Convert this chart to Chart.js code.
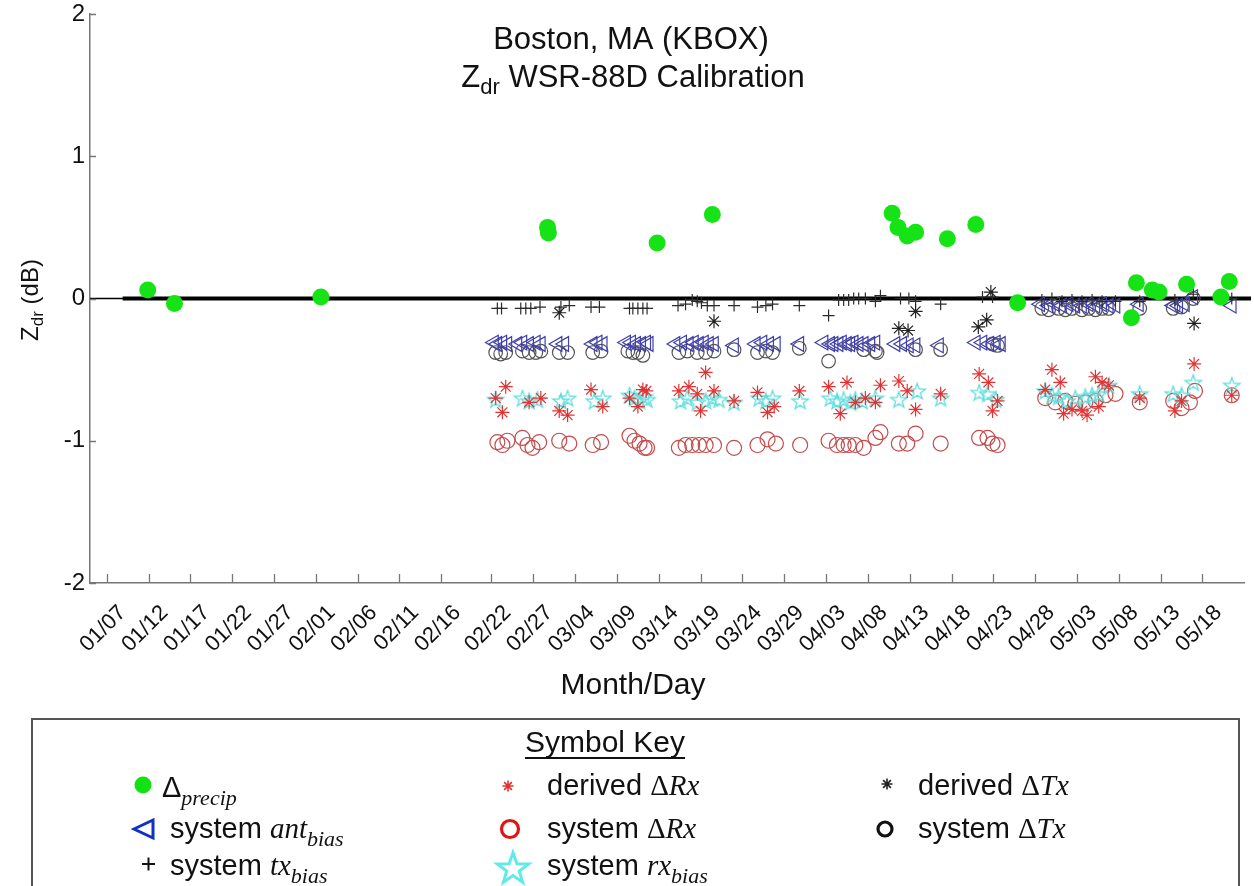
<!DOCTYPE html>
<html>
<head>
<meta charset="utf-8">
<script src="https://cdn.jsdelivr.net/npm/chart.js@4.4.1/dist/chart.umd.min.js"></script>
<style>
  html, body { margin: 0; padding: 0; background: #ffffff; }
  #wrap { width: 1254px; height: 886px; position: relative; overflow: hidden; }
  canvas { display: block; }
</style>
</head>
<body>
<div id="wrap"><canvas id="chart" width="1254" height="886" style="width:1254px;height:886px"></canvas></div>
<script>
// x values are day of year (2015); y values are Zdr offsets in dB
const tickDays = [7, 12, 17, 22, 27, 32, 37, 42, 47, 53, 58, 63, 68, 73, 78, 83, 88, 93, 98, 103, 108, 113, 118, 123, 128, 133, 138];
const tickLabels = ['01/07', '01/12', '01/17', '01/22', '01/27', '02/01', '02/06', '02/11', '02/16', '02/22', '02/27', '03/04', '03/09',
  '03/14', '03/19', '03/24', '03/29', '04/03', '04/08', '04/13', '04/18', '04/23', '04/28', '05/03', '05/08', '05/13', '05/18'];
const yTicks = [-2, -1, 0, 1, 2];

// Δprecip
const precip = [[11.9, 0.06], [15.1, -0.035], [32.6, 0.01], [59.7, 0.50], [59.8, 0.46], [72.8, 0.39], [79.4, 0.59],
  [100.9, 0.60], [101.6, 0.50], [102.7, 0.44], [103.7, 0.465], [107.5, 0.42], [110.9, 0.52], [115.9, -0.03],
  [129.5, -0.135], [130.1, 0.11], [132.0, 0.06], [132.8, 0.045], [136.1, 0.10], [140.2, 0.01], [141.2, 0.12]];

// system tx_bias
const txBias = [[53.7, -0.07], [54.2, -0.07], [56.5, -0.07], [57.1, -0.07], [57.7, -0.07], [58.8, -0.06], [61.3, -0.06], [62.3, -0.05],
  [64.9, -0.06], [65.9, -0.06], [69.5, -0.07], [69.9, -0.07], [70.5, -0.07], [71.1, -0.07], [71.6, -0.07], [75.3, -0.05],
  [76.2, -0.04], [77.0, -0.01], [77.6, -0.02], [78.1, -0.03], [78.8, -0.05], [79.6, -0.05], [82.0, -0.05], [84.8, -0.06],
  [85.8, -0.05], [86.6, -0.04], [89.8, -0.05], [93.3, -0.12], [94.5, -0.01], [95.1, -0.01], [95.7, -0.01], [96.3, 0.0],
  [96.9, 0.0], [97.7, 0.0], [98.9, -0.02], [99.5, 0.02], [101.9, 0.0], [102.9, 0.0], [103.7, -0.02], [106.7, -0.04],
  [111.7, 0.01], [112.9, 0.01], [118.8, -0.01], [120.0, 0.0], [121.2, -0.02], [122.4, -0.01], [123.6, -0.02], [124.8, -0.01],
  [126.0, -0.02], [127.6, -0.02], [130.5, -0.02], [134.7, -0.01], [136.9, 0.03], [141.5, 0.0]];

// system ant_bias
const antBias = [[53.3, -0.31], [53.7, -0.32], [54.3, -0.31], [54.9, -0.32], [56.1, -0.32], [56.7, -0.31], [57.5, -0.32], [58.3, -0.31],
  [58.9, -0.32], [60.9, -0.32], [61.7, -0.32], [65.1, -0.32], [65.7, -0.31], [66.3, -0.32], [69.1, -0.31], [69.7, -0.31],
  [70.3, -0.32], [70.9, -0.32], [71.5, -0.31], [71.8, -0.32], [75.0, -0.32], [75.8, -0.31], [76.6, -0.32], [77.2, -0.31],
  [77.8, -0.32], [78.4, -0.31], [79.0, -0.32], [79.6, -0.32], [82.0, -0.33], [84.6, -0.32], [85.4, -0.31], [86.2, -0.32],
  [87.0, -0.32], [89.8, -0.32], [92.7, -0.31], [93.5, -0.32], [93.9, -0.32], [94.5, -0.32], [94.9, -0.31], [95.5, -0.32],
  [95.9, -0.32], [96.3, -0.31], [96.9, -0.32], [97.5, -0.32], [98.3, -0.32], [98.9, -0.31], [101.3, -0.32], [102.1, -0.32],
  [102.9, -0.33], [103.7, -0.33], [106.5, -0.33], [110.9, -0.31], [111.7, -0.31], [112.5, -0.32], [113.3, -0.31], [113.9, -0.32],
  [118.6, -0.04], [119.6, -0.05], [120.4, -0.04], [121.2, -0.05], [122.0, -0.04], [122.8, -0.05], [123.6, -0.05], [124.4, -0.04],
  [125.2, -0.05], [126.0, -0.04], [126.8, -0.05], [127.6, -0.05], [130.4, -0.04], [134.5, -0.05], [135.1, -0.05], [135.9, -0.04],
  [136.9, 0.01], [141.5, -0.05]];

// system ΔTx
const sysTx = [[53.5, -0.38], [54.1, -0.39], [54.7, -0.38], [56.7, -0.37], [57.5, -0.38], [58.3, -0.38], [58.9, -0.37], [61.1, -0.38],
  [62.1, -0.38], [65.1, -0.38], [66.1, -0.37], [69.3, -0.37], [69.9, -0.38], [70.5, -0.38], [71.1, -0.40], [75.4, -0.38],
  [76.4, -0.37], [77.6, -0.38], [78.6, -0.38], [79.6, -0.37], [82.0, -0.36], [84.8, -0.38], [85.8, -0.37], [86.6, -0.38],
  [89.8, -0.35], [93.3, -0.44], [97.5, -0.36], [98.9, -0.37], [99.1, -0.38], [103.7, -0.36], [106.7, -0.36], [112.9, -0.32],
  [113.5, -0.33], [118.8, -0.07], [119.6, -0.08], [120.8, -0.07], [121.6, -0.08], [122.4, -0.07], [123.6, -0.08], [124.4, -0.07],
  [125.2, -0.08], [126.0, -0.07], [126.8, -0.07], [130.5, -0.07], [134.5, -0.07], [135.5, -0.06], [136.9, 0.0]];

// system rx_bias
const rxBias = [[53.5, -0.71], [56.7, -0.70], [57.5, -0.72], [58.5, -0.71], [61.3, -0.72], [62.1, -0.70], [65.3, -0.72], [66.3, -0.70],
  [69.5, -0.68], [70.1, -0.70], [70.7, -0.72], [71.3, -0.69], [71.6, -0.71], [75.6, -0.72], [76.4, -0.70], [77.6, -0.73],
  [78.6, -0.72], [79.4, -0.70], [80.2, -0.71], [82.0, -0.73], [85.0, -0.70], [85.8, -0.72], [86.6, -0.70], [89.9, -0.72],
  [93.5, -0.70], [94.3, -0.72], [95.1, -0.71], [95.9, -0.73], [96.5, -0.71], [97.3, -0.72], [98.9, -0.70], [101.7, -0.71],
  [103.9, -0.65], [106.7, -0.70], [111.3, -0.66], [112.3, -0.67], [113.3, -0.71], [119.2, -0.65], [120.0, -0.68], [120.8, -0.69],
  [121.8, -0.72], [122.8, -0.70], [124.0, -0.69], [124.8, -0.68], [125.6, -0.67], [126.8, -0.61], [130.5, -0.67], [134.5, -0.67],
  [135.5, -0.68], [136.9, -0.59], [141.5, -0.61]];

// derived ΔRx
const derRx = [[54.7, -0.62], [53.5, -0.70], [54.3, -0.80], [57.5, -0.73], [58.9, -0.70], [61.1, -0.79], [62.1, -0.82], [64.9, -0.64],
  [66.3, -0.76], [69.5, -0.70], [71.1, -0.64], [71.5, -0.65], [70.5, -0.76], [75.4, -0.65], [76.6, -0.62], [77.6, -0.67],
  [78.6, -0.52], [79.6, -0.65], [78.0, -0.79], [82.0, -0.72], [84.8, -0.66], [86.0, -0.80], [86.8, -0.76], [89.8, -0.65],
  [93.3, -0.62], [95.5, -0.59], [97.7, -0.70], [94.7, -0.81], [96.5, -0.73], [98.9, -0.73], [99.5, -0.61], [101.7, -0.58],
  [102.7, -0.65], [103.7, -0.78], [106.7, -0.67], [111.3, -0.53], [112.4, -0.59], [112.9, -0.79], [113.5, -0.72], [120.0, -0.50],
  [121.0, -0.59], [119.2, -0.64], [121.4, -0.81], [122.4, -0.78], [123.6, -0.79], [124.2, -0.82], [125.2, -0.55], [126.0, -0.59],
  [126.8, -0.61], [125.6, -0.76], [130.5, -0.70], [134.7, -0.79], [135.5, -0.72], [137.0, -0.46], [141.5, -0.68]];

// system ΔRx
const sysRx = [[53.7, -1.01], [54.3, -1.03], [54.9, -1.00], [56.7, -0.98], [57.3, -1.03], [57.9, -1.05], [58.7, -1.01], [61.1, -1.00],
  [62.3, -1.02], [65.1, -1.03], [66.1, -1.01], [69.5, -0.965], [70.1, -1.00], [70.7, -1.02], [71.3, -1.05], [71.6, -1.05],
  [75.4, -1.05], [76.2, -1.03], [77.0, -1.03], [77.8, -1.03], [78.6, -1.03], [79.6, -1.03], [82.0, -1.05], [84.8, -1.03],
  [86.0, -0.99], [87.0, -1.02], [89.9, -1.03], [93.3, -1.00], [94.3, -1.03], [95.1, -1.03], [95.7, -1.03], [96.5, -1.03],
  [97.5, -1.05], [98.9, -0.98], [99.5, -0.94], [101.7, -1.02], [102.7, -1.02], [103.7, -0.95], [106.7, -1.02], [111.3, -0.98],
  [112.3, -0.98], [112.9, -1.02], [113.5, -1.03], [119.2, -0.70], [120.4, -0.73], [121.6, -0.72], [122.8, -0.74], [124.0, -0.73],
  [125.2, -0.72], [126.4, -0.68], [127.6, -0.67], [130.5, -0.73], [134.5, -0.72], [135.5, -0.77], [136.5, -0.73], [137.1, -0.65],
  [141.5, -0.68]];

// derived ΔTx
const derTx = [[61.1, -0.10], [79.6, -0.16], [101.7, -0.21], [102.8, -0.225], [103.7, -0.09], [111.2, -0.20], [112.2, -0.15],
  [112.7, 0.045], [137.0, -0.175]];

const SANS = '"Liberation Sans", Arial, Helvetica, sans-serif';
const SERIF = '"Liberation Serif", "Times New Roman", serif';

const toPts = arr => arr.map(([x, y]) => ({ x, y }));

// outlined five-point star used as a point style
function pentagramPath(ctx, cx, cy, R) {
  const r = R * 0.4;
  ctx.beginPath();
  for (let i = 0; i < 10; i++) {
    const a = -Math.PI / 2 + i * Math.PI / 5;
    const rr = i % 2 ? r : R;
    const px = cx + rr * Math.cos(a), py = cy + rr * Math.sin(a);
    if (i) ctx.lineTo(px, py); else ctx.moveTo(px, py);
  }
  ctx.closePath();
}
function makeStarImage(R, lw, color) {
  const c = document.createElement('canvas');
  const s = Math.ceil(R * 2 + lw * 2 + 2);
  c.width = s; c.height = s;
  const g = c.getContext('2d');
  pentagramPath(g, s / 2, s / 2 + R * 0.1, R);
  g.lineWidth = lw; g.strokeStyle = color; g.lineJoin = 'miter';
  g.stroke();
  return c;
}
const starImg = makeStarImage(8.5, 1.3, '#5fdede');

function asteriskPath(ctx, cx, cy, r) {
  ctx.beginPath();
  for (let k = 0; k < 4; k++) {
    const a = k * Math.PI / 4;
    ctx.moveTo(cx - r * Math.cos(a), cy - r * Math.sin(a));
    ctx.lineTo(cx + r * Math.cos(a), cy + r * Math.sin(a));
  }
}

function rich(ctx, x, y, parts, align) {
  let w = 0;
  parts.forEach(p => { ctx.font = p.f; p.w = ctx.measureText(p.t).width; w += p.w; });
  let cx = align === 'center' ? x - w / 2 : x;
  parts.forEach(p => { ctx.font = p.f; ctx.fillText(p.t, cx, y + (p.dy || 0)); cx += p.w; });
  return w;
}

const decor = {
  id: 'decor',
  afterDraw(chart) {
    const { ctx, chartArea: a, scales: { x, y } } = chart;
    ctx.save();
    // inward tick marks
    ctx.strokeStyle = '#777'; ctx.lineWidth = 1.3;
    ctx.beginPath();
    tickDays.forEach(d => { const px = Math.round(x.getPixelForValue(d)) + 0.5; ctx.moveTo(px, a.bottom); ctx.lineTo(px, a.bottom - 9); });
    yTicks.forEach(v => { const py = Math.round(y.getPixelForValue(v)) + 0.5; ctx.moveTo(a.left, py); ctx.lineTo(a.left + 6, py); });
    ctx.stroke();

    ctx.fillStyle = '#111';
    ctx.textBaseline = 'alphabetic';
    // title
    rich(ctx, 631, 49, [{ t: 'Boston, MA (KBOX)', f: `31px ${SANS}` }], 'center');
    rich(ctx, 633, 87, [
      { t: 'Z', f: `31px ${SANS}` },
      { t: 'dr', f: `22px ${SANS}`, dy: 7 },
      { t: ' WSR-88D Calibration', f: `31px ${SANS}` }
    ], 'center');
    // axis titles
    rich(ctx, 633, 694, [{ t: 'Month/Day', f: `30px ${SANS}` }], 'center');
    ctx.save();
    ctx.translate(38, 300);
    ctx.rotate(-Math.PI / 2);
    rich(ctx, 0, 0, [
      { t: 'Z', f: `24px ${SANS}` },
      { t: 'dr', f: `17px ${SANS}`, dy: 5 },
      { t: ' (dB)', f: `24px ${SANS}` }
    ], 'center');
    ctx.restore();

    // symbol key box
    ctx.strokeStyle = '#555'; ctx.lineWidth = 2;
    ctx.strokeRect(32, 719, 1207, 220);
    const kw = rich(ctx, 605, 752, [{ t: 'Symbol Key', f: `30px ${SANS}` }], 'center');
    ctx.fillRect(605 - kw / 2, 757, kw, 2);

    const F = `29px ${SANS}`, FI = `italic 29px ${SERIF}`, FU = `29px ${SERIF}`, FS = `italic 22px ${SERIF}`;
    // column 1
    rich(ctx, 162, 797, [{ t: 'Δ', f: F }, { t: 'precip', f: FS, dy: 8 }]);
    rich(ctx, 170, 838, [{ t: 'system ', f: F }, { t: 'ant', f: FI }, { t: 'bias', f: FS, dy: 8 }]);
    rich(ctx, 170, 875, [{ t: 'system ', f: F }, { t: 'tx', f: FI }, { t: 'bias', f: FS, dy: 8 }]);
    // column 2
    rich(ctx, 547, 795, [{ t: 'derived ', f: F }, { t: 'Δ', f: FU }, { t: 'Rx', f: FI }]);
    rich(ctx, 547, 838, [{ t: 'system ', f: F }, { t: 'Δ', f: FU }, { t: 'Rx', f: FI }]);
    rich(ctx, 547, 875, [{ t: 'system ', f: F }, { t: 'rx', f: FI }, { t: 'bias', f: FS, dy: 8 }]);
    // column 3
    rich(ctx, 918, 795, [{ t: 'derived ', f: F }, { t: 'Δ', f: FU }, { t: 'Tx', f: FI }]);
    rich(ctx, 918, 838, [{ t: 'system ', f: F }, { t: 'Δ', f: FU }, { t: 'Tx', f: FI }]);

    // key markers
    ctx.fillStyle = '#12e212';
    ctx.beginPath(); ctx.arc(143, 785, 8.5, 0, Math.PI * 2); ctx.fill();

    ctx.strokeStyle = '#1030c8'; ctx.lineWidth = 3; ctx.lineJoin = 'miter';
    ctx.beginPath(); ctx.moveTo(134, 829); ctx.lineTo(153, 820); ctx.lineTo(153, 838); ctx.closePath(); ctx.stroke();

    ctx.strokeStyle = '#111'; ctx.lineWidth = 2;
    ctx.beginPath(); ctx.moveTo(142, 864); ctx.lineTo(155, 864); ctx.moveTo(148.5, 857.5); ctx.lineTo(148.5, 870.5); ctx.stroke();

    ctx.strokeStyle = '#e23030'; ctx.lineWidth = 1.6;
    asteriskPath(ctx, 508, 786, 5.5); ctx.stroke();

    ctx.strokeStyle = '#e01414'; ctx.lineWidth = 3.2;
    ctx.beginPath(); ctx.arc(510, 829, 8.5, 0, Math.PI * 2); ctx.stroke();

    ctx.strokeStyle = '#62eaea'; ctx.lineWidth = 3;
    pentagramPath(ctx, 513, 869, 16.5); ctx.stroke();

    ctx.strokeStyle = '#222'; ctx.lineWidth = 1.6;
    asteriskPath(ctx, 887, 784, 5.5); ctx.stroke();

    ctx.strokeStyle = '#111'; ctx.lineWidth = 3.2;
    ctx.beginPath(); ctx.arc(885, 829, 7, 0, Math.PI * 2); ctx.stroke();

    ctx.restore();
  }
};

Chart.defaults.font.family = SANS;
Chart.defaults.color = '#111';

new Chart(document.getElementById('chart'), {
  type: 'scatter',
  data: {
    datasets: [
      { label: 'zero', type: 'line', data: [{ x: 5, y: 0 }, { x: 143.8, y: 0 }], borderColor: '#000', borderWidth: 1.3, pointRadius: 0, clip: false, order: 20 },
      { label: 'zero bold', type: 'line', data: [{ x: 8.9, y: 0 }, { x: 143.8, y: 0 }], borderColor: '#000', borderWidth: 4, pointRadius: 0, clip: false, order: 19 },
      { label: 'system ΔRx', data: toPts(sysRx), pointStyle: 'circle', pointRadius: 7.5, borderColor: '#c44c4c', backgroundColor: 'rgba(0,0,0,0)', borderWidth: 1.2, order: 9 },
      { label: 'system ΔTx', data: toPts(sysTx), pointStyle: 'circle', pointRadius: 6.8, borderColor: '#555555', backgroundColor: 'rgba(0,0,0,0)', borderWidth: 1.2, order: 8 },
      { label: 'system ant_bias', data: toPts(antBias), pointStyle: 'triangle', pointRotation: -90, pointRadius: 8.5, borderColor: '#4040aa', backgroundColor: 'rgba(0,0,0,0)', borderWidth: 1.2, order: 7 },
      { label: 'system tx_bias', data: toPts(txBias), pointStyle: 'cross', pointRadius: 6, borderColor: '#2a2a2a', borderWidth: 1.2, order: 6 },
      { label: 'system rx_bias', data: toPts(rxBias), pointStyle: starImg, pointRadius: 8, order: 5 },
      { label: 'derived ΔRx', data: toPts(derRx), pointStyle: 'star', pointRadius: 7, borderColor: '#e03434', borderWidth: 1.2, order: 4 },
      { label: 'derived ΔTx', data: toPts(derTx), pointStyle: 'star', pointRadius: 7, borderColor: '#222222', borderWidth: 1.2, order: 3 },
      { label: 'Δprecip', data: toPts(precip), pointStyle: 'circle', pointRadius: 8.5, backgroundColor: '#16e316', borderColor: '#16e316', borderWidth: 0, order: 1 }
    ]
  },
  options: {
    responsive: false,
    animation: false,
    devicePixelRatio: 1,
    events: [],
    layout: { padding: { left: 0, right: 7, top: 14, bottom: 0 } },
    plugins: { legend: { display: false }, tooltip: { enabled: false }, title: { display: false } },
    scales: {
      x: {
        type: 'linear',
        min: 5, max: 143,
        afterBuildTicks: s => { s.ticks = tickDays.map(v => ({ value: v })); },
        afterFit: s => { s.height = 303; s.paddingLeft = 0; s.paddingRight = 0; },
        ticks: {
          autoSkip: false, minRotation: 45, maxRotation: 45, padding: 17, labelOffset: 16,
          font: { family: SANS, size: 22 }, color: '#111',
          callback: (v, i) => tickLabels[i]
        },
        grid: { display: false, drawTicks: false },
        border: { display: true, color: '#777', width: 1.5 }
      },
      y: {
        min: -2, max: 2,
        afterBuildTicks: s => { s.ticks = yTicks.map(v => ({ value: v })); },
        afterFit: s => { s.width = 90; s.paddingTop = 0; s.paddingBottom = 0; },
        ticks: { padding: 5, font: { family: SANS, size: 24 }, color: '#111', callback: v => String(v) },
        grid: { display: false, drawTicks: false },
        border: { display: true, color: '#777', width: 1.5 }
      }
    }
  },
  plugins: [decor]
});
</script>
</body>
</html>
